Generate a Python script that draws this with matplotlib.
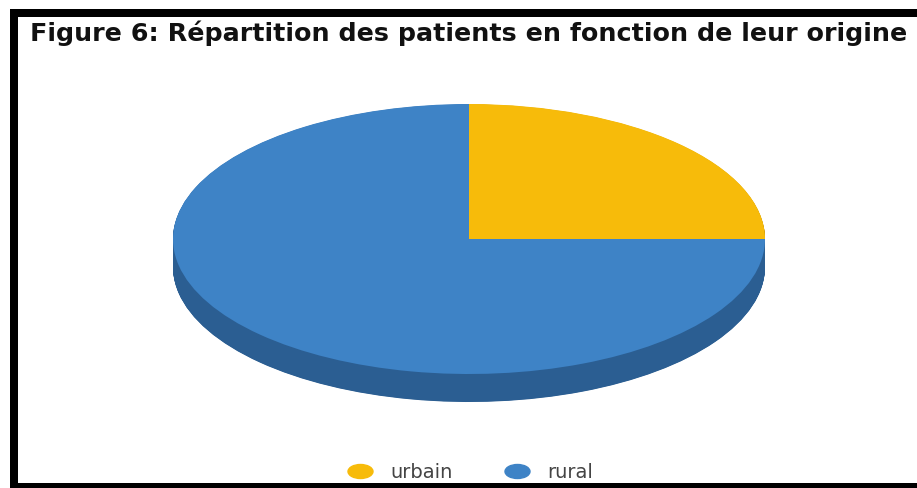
import matplotlib
matplotlib.use("Agg")
import matplotlib.pyplot as plt
from matplotlib.patches import Rectangle
from matplotlib.lines import Line2D
from matplotlib.path import Path
from matplotlib.transforms import Affine2D

# ---- data ----
categories = ["urbain", "rural"]
values = [25, 75]
colors_top = ["#F7BB0A", "#3E83C6"]
colors_side = ["#B88A06", "#2B5E92"]
title = "Figure 6: Répartition des patients en fonction de leur origine"

W, H = 917, 489
fig = plt.figure(figsize=(W / 100, H / 100), dpi=100)
fig.patch.set_facecolor("white")

# background axes in pixel coords (y downward) for the frame
bg = fig.add_axes([0, 0, 1, 1])
bg.set_xlim(0, W)
bg.set_ylim(H, 0)
bg.axis("off")
bg.add_patch(Rectangle((10, 10), W - 10, 7.5, color="black", lw=0))
bg.add_patch(Rectangle((10, 10), 7.5, H - 10, color="black", lw=0))
bg.add_patch(Rectangle((10, 484), W - 10, 6, color="black", lw=0))

# ---- 3D-looking elliptical pie ----
cx, cy_top, rx, ry, depth = 469, 240, 296, 135, 28
dd = depth / ry
left = (cx - rx) / W
bottom = (H - (cy_top + ry + depth)) / H
height = (2 * ry + depth) / H
width = 2 * rx / W
ax = fig.add_axes([left, bottom, width, height])

N = 70
for k in range(N, 0, -1):
    off = -dd * k / N
    ax.pie(values, colors=colors_side, startangle=90, counterclock=False,
           radius=1, center=(0, off), wedgeprops=dict(linewidth=0, antialiased=True))
ax.pie(values, colors=colors_top, startangle=90, counterclock=False,
       radius=1, center=(0, 0), wedgeprops=dict(linewidth=0, antialiased=True))
ax.set_aspect("auto")
ax.set_xlim(-1, 1)
ax.set_ylim(-1 - dd, 1)
ax.axis("off")

# ---- title (fit to reference width) ----
t = fig.text(30 / W, 1 - 41 / H, title, fontsize=10, fontweight="bold",
             family="DejaVu Sans", color="#111111", ha="left", va="baseline")
fig.canvas.draw()
r = fig.canvas.get_renderer()
w = t.get_window_extent(r).width
t.set_fontsize(10 * 875 / w)

# ---- legend ----
ell = Path.unit_circle().transformed(Affine2D().scale(1.0, 0.56))
handles = [Line2D([], [], linestyle="none", marker=ell, markersize=18,
                  markerfacecolor=c, markeredgecolor=c) for c in colors_top]
fig.legend(handles, categories, loc="center", ncol=2, frameon=False,
           bbox_to_anchor=(470 / W, 1 - 473 / H), prop=dict(family="DejaVu Sans", size=14),
           labelcolor="#444444", handletextpad=0.85, columnspacing=2.6,
           handlelength=1.4)

fig.savefig("out.png", dpi=100, facecolor="white")
